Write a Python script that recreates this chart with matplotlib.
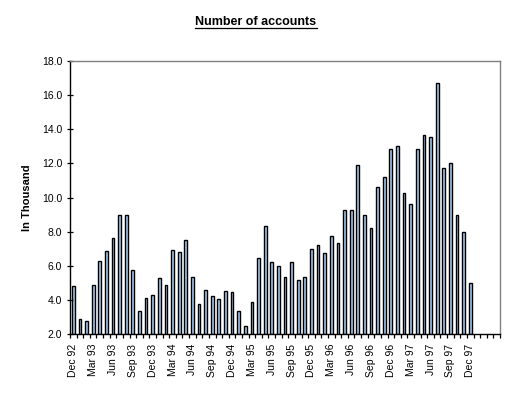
import matplotlib
matplotlib.use("Agg")
import matplotlib.pyplot as plt
import numpy as np

months = ["Dec", "Jan", "Feb", "Mar", "Apr", "May", "Jun", "Jul", "Aug", "Sep", "Oct", "Nov"]
# categories Dec 92 .. Apr 98 (65 months); data through Dec 97
categories = []
yr = 92
for i in range(65):
    m = months[i % 12]
    if m == "Jan":
        yr += 1
    categories.append(f"{m} {yr % 100:02d}")

values = [4.8, 2.9, 2.75, 4.9, 6.3, 6.85, 7.6, 9.0, 9.0, 5.75,
          3.35, 4.1, 4.3, 5.3, 4.85, 6.9, 6.8, 7.5, 5.35, 3.75,
          4.6, 4.2, 4.05, 4.5, 4.45, 3.35, 2.45, 3.9, 6.45, 8.35,
          6.2, 6.0, 5.35, 6.2, 5.15, 5.35, 7.0, 7.2, 6.75, 7.75,
          7.35, 9.25, 9.25, 11.9, 9.0, 8.2, 10.6, 11.2, 12.85, 13.0,
          10.25, 9.6, 12.85, 13.65, 13.55, 16.7, 11.7, 12.0, 9.0, 7.95,
          5.0]

yticks = [2.0, 4.0, 6.0, 8.0, 10.0, 12.0, 14.0, 16.0, 18.0]

fig = plt.figure(figsize=(5.15, 3.95), dpi=100)
ax = fig.add_axes([70/515, 61/395, 430/515, 273/395])

x = np.arange(len(values))
bottom = yticks[0]
ax.bar(x, np.array(values) - bottom, bottom=bottom, width=0.42,
       color="#A6CAF0", edgecolor="black", linewidth=1.0)

ax.set_xlim(-0.5, len(categories) - 0.5)
ax.set_ylim(yticks[0], yticks[-1])
ax.set_yticks(yticks)
ax.set_yticklabels([f"{v:.1f}" for v in yticks], fontsize=7.5, family="Liberation Sans")

# minor ticks at category boundaries, labels every 3 months
ax.set_xticks(np.arange(-0.5, len(categories) + 0.5, 1.0), minor=True)
lab_idx = list(range(0, 61, 3))
ax.set_xticks(lab_idx)
ax.set_xticklabels([categories[i] for i in lab_idx], rotation=90,
                   fontsize=7.5, family="Liberation Sans")
ax.tick_params(axis="x", which="major", length=0, pad=7)
ax.tick_params(axis="x", which="minor", length=3, direction="out", width=0.9)
ax.tick_params(axis="y", which="major", length=5, direction="inout", width=0.9, pad=3)

for s in ["left", "bottom"]:
    ax.spines[s].set_color("black")
    ax.spines[s].set_linewidth(1.0)
for s in ["top", "right"]:
    ax.spines[s].set_color("#808080")
    ax.spines[s].set_linewidth(1.0)

ax.set_ylabel("In Thousand", fontsize=8, fontweight="bold", family="Liberation Sans", labelpad=7)

t = fig.text(256/515, 1 - 22/395, "Number of accounts", ha="center", va="center",
             fontsize=9, fontweight="bold", family="Liberation Sans")
fig.canvas.draw()
bb = t.get_window_extent(renderer=fig.canvas.get_renderer()).transformed(fig.transFigure.inverted())
fig.add_artist(plt.Line2D([bb.x0, bb.x1], [bb.y0 + 0.001, bb.y0 + 0.001],
                          transform=fig.transFigure, color="black", linewidth=0.9))

fig.savefig("out.png", dpi=100)
